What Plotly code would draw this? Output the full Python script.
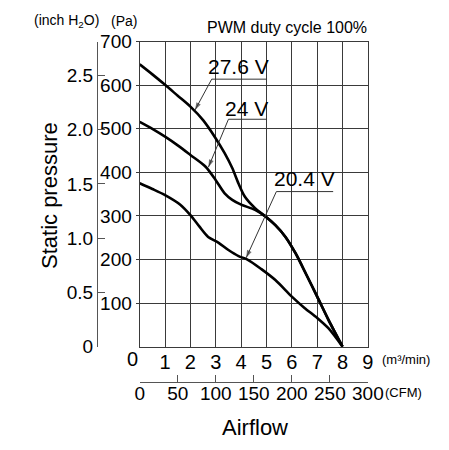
import plotly.graph_objects as go

# ---- data (airflow in m3/min, static pressure in Pa) ----
airflow_276 = [0, 0.5, 1, 1.5, 2, 2.5, 3, 3.35, 3.65, 3.9, 4.15, 4.55, 5, 5.35, 5.75, 6.15, 6.55, 7, 7.45, 8]
press_276 = [648, 625, 601, 576, 551, 520, 478, 444, 410, 374, 344, 318, 297, 279, 252, 214, 168, 115, 61, 0]

airflow_24 = [0, 0.5, 1, 1.5, 2, 2.6, 3, 3.35, 3.65, 4, 4.55, 5, 5.35, 5.75, 6.15, 6.55, 7, 7.45, 8]
press_24 = [516, 500, 482, 462, 440, 413, 382, 352, 337, 326, 314, 297, 279, 252, 214, 168, 115, 61, 0]

airflow_204 = [0, 0.5, 1, 1.6, 2, 2.35, 2.7, 3.1, 3.5, 3.9, 4.25, 4.8, 5.35, 6, 6.5, 7, 7.45, 8]
press_204 = [375, 362, 348, 326, 302, 276, 252, 239, 222, 208, 200, 178, 153, 115, 89, 66, 42, 0]

series_names = ["27.6 V", "24 V", "20.4 V"]

m3_ticks = [1, 2, 3, 4, 5, 6, 7, 8, 9]
pa_ticks = [100, 200, 300, 400, 500, 600, 700]
inch_ticks = [0, 0.5, 1.0, 1.5, 2.0, 2.5]
inch_labels = ["0", "0.5", "1.0", "1.5", "2.0", "2.5"]
cfm_ticks = [0, 50, 100, 150, 200, 250, 300]

PA_PER_INCH = 249.089
CFM_PER_M3 = 35.3147

NUM_FONT = "Liberation Sans, Arial"
TXT_FONT = "Liberation Sans, Arial"

fig = go.Figure()
for xs, ys, nm in [(airflow_276, press_276, series_names[0]),
                   (airflow_24, press_24, series_names[1]),
                   (airflow_204, press_204, series_names[2])]:
    fig.add_trace(go.Scatter(x=xs, y=ys, mode="lines", name=nm,
                             line=dict(color="black", width=2.6, shape="spline", smoothing=0.8),
                             showlegend=False, hoverinfo="skip"))

# dummy traces to activate the secondary axes
fig.add_trace(go.Scatter(x=[None], y=[None], xaxis="x2", yaxis="y", showlegend=False, hoverinfo="skip"))
fig.add_trace(go.Scatter(x=[None], y=[None], xaxis="x", yaxis="y2", showlegend=False, hoverinfo="skip"))

L, R, T, B = 40, 10, 10, 10
W, H = 449, 450
pw, ph = W - L - R, H - T - B

def px(xpix):
    return (xpix - L) / pw

def py(ypix):
    return (H - B - ypix) / ph

x0pix, x9pix = 139.7, 367.9
ytop, ybot = 41.7, 346.7
cfm_end_pix = x0pix + 300 / CFM_PER_M3 * (x9pix - x0pix) / 9

grid_col = "#3a3a3a"

fig.update_layout(
    width=W, height=H,
    margin=dict(l=L, r=R, t=T, b=B, autoexpand=False),
    showlegend=False,
    paper_bgcolor="white", plot_bgcolor="white",
    xaxis=dict(domain=[px(x0pix), px(x9pix)], range=[0, 9],
               tickvals=m3_ticks, ticktext=[str(v) for v in m3_ticks],
               showgrid=True, gridcolor=grid_col, gridwidth=1.2,
               showline=True, linecolor=grid_col, linewidth=1.2, mirror=True,
               zeroline=False, ticks="", automargin=False, ticklabelstandoff=-3,
               tickfont=dict(family=NUM_FONT, size=20, color="black")),
    yaxis=dict(domain=[py(ybot), py(ytop)], range=[0, 700],
               tickvals=pa_ticks, ticktext=[str(v) for v in pa_ticks],
               showgrid=True, gridcolor=grid_col, gridwidth=1.2,
               showline=True, linecolor=grid_col, linewidth=1.2, mirror=True,
               zeroline=False, ticks="outside", ticklen=3, tickcolor=grid_col,
               automargin=False,
               tickfont=dict(family=NUM_FONT, size=19, color="black")),
    yaxis2=dict(overlaying="y", anchor="free", position=px(97), side="left",
                range=[0, 700 / PA_PER_INCH],
                tickvals=inch_ticks, ticktext=inch_labels,
                showgrid=False, zeroline=False, automargin=False,
                showline=True, linecolor="#555", linewidth=1.2,
                ticks="inside", ticklen=7, tickcolor="#555",
                tickfont=dict(family=NUM_FONT, size=19, color="black")),
    xaxis2=dict(anchor="free", position=py(382), overlaying="x",
                domain=[px(x0pix), px(cfm_end_pix)], range=[0, 300],
                tickvals=cfm_ticks, ticktext=[str(v) for v in cfm_ticks],
                showgrid=False, zeroline=False, automargin=False,
                showline=True, linecolor="#555", linewidth=1.2,
                ticks="inside", ticklen=7, tickcolor="#555", ticklabelstandoff=-6,
                tickfont=dict(family=NUM_FONT, size=19, color="black")),
)

ann = []
def paper_text(text, xp, yp, size, family=TXT_FONT, angle=0):
    ann.append(dict(text=text, x=px(xp), y=py(yp), xref="paper", yref="paper",
                    xanchor="center", yanchor="middle", showarrow=False, textangle=angle,
                    font=dict(family=family, size=size, color="black")))

paper_text("0", 132, 359, 20, NUM_FONT)
paper_text("(m³/min)", 406, 359, 13)
paper_text("(CFM)", 403, 392, 13)
paper_text("(inch H<sub>2</sub>O)", 66, 21, 14)
paper_text("(Pa)", 124, 21, 14)
paper_text("PWM duty cycle 100%", 287, 27, 16)
paper_text("Static pressure", 49, 196, 22, angle=-90)
paper_text("Airflow", 255, 427, 22)

# voltage labels with leader lines (underline, then slanted leader ending in an arrowhead)
labels = [
    (series_names[0], 3.88, 642, (2.84, 614), (5.01, 614), (2.18, 543)),
    (series_names[1], 4.22, 546, (3.50, 522), (5.01, 522), (2.71, 412)),
    (series_names[2], 6.51, 387, (5.39, 356), (7.63, 356), (4.20, 204)),
]
for txt, tx, ty, a, b, tip in labels:
    ann.append(dict(text=txt, x=tx, y=ty, xref="x", yref="y", showarrow=False,
                    xanchor="center", yanchor="middle",
                    font=dict(family=TXT_FONT, size=21, color="black")))
    fig.add_trace(go.Scatter(x=[b[0], a[0], tip[0]], y=[b[1], a[1], tip[1]],
                             mode="lines+markers",
                             line=dict(color="#333", width=1),
                             marker=dict(symbol=["circle", "circle", "arrow"], size=[0, 0, 8],
                                         angleref="previous", color="#333",
                                         line=dict(width=0)),
                             showlegend=False, hoverinfo="skip"))

fig.update_layout(annotations=ann)
fig.write_html("out.html")
